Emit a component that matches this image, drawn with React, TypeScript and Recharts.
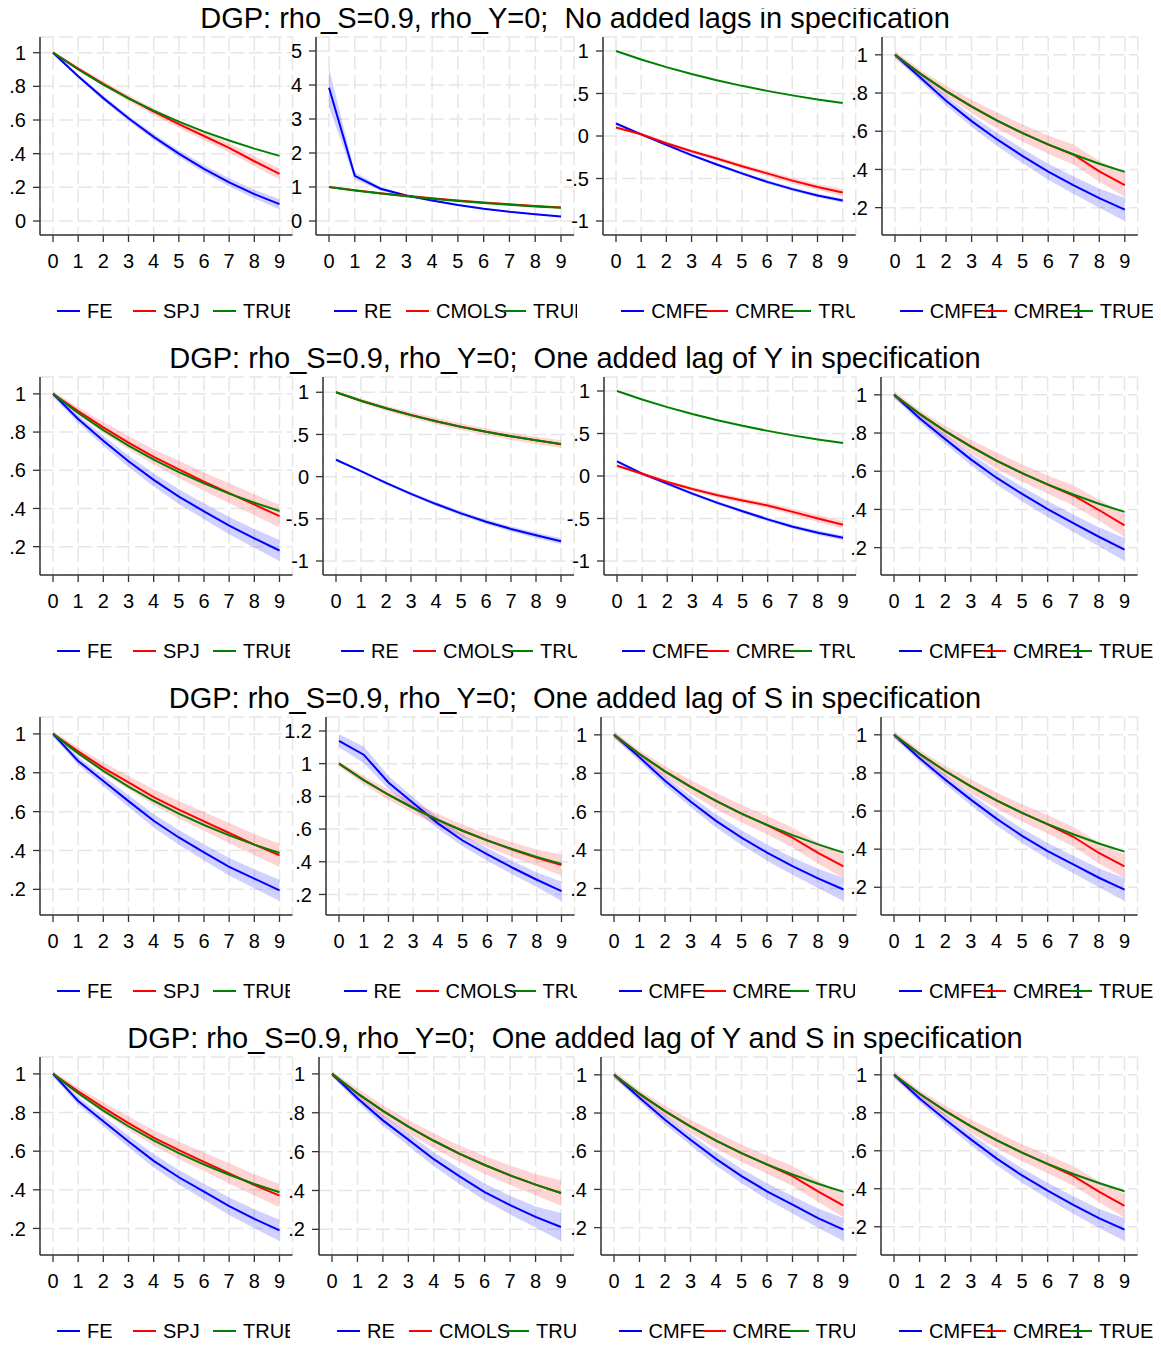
import React from "react"
import { ComposedChart, Line, Area, XAxis, YAxis, CartesianGrid } from "recharts"

// horizons after the shock
const horizons = [0, 1, 2, 3, 4, 5, 6, 7, 8, 9]

// true impulse response (same in every panel)
const trueIrf = [1, 0.9, 0.81, 0.729, 0.656, 0.59, 0.531, 0.478, 0.43, 0.387]

// y tick sets
const ticks0to1 = [0, 0.2, 0.4, 0.6, 0.8, 1]
const ticks0to5 = [0, 1, 2, 3, 4, 5]
const ticksM1to1 = [-1, -0.5, 0, 0.5, 1]
const ticks02to1 = [0.2, 0.4, 0.6, 0.8, 1]
const ticks02to12 = [0.2, 0.4, 0.6, 0.8, 1, 1.2]

// ---- row 1: no added lags ----
const r1FE = [1, 0.86, 0.73, 0.61, 0.5, 0.4, 0.31, 0.23, 0.16, 0.1]
const r1FEBand = [[0.99, 1.01], [0.85, 0.87], [0.716, 0.744], [0.594, 0.626], [0.482, 0.518], [0.38, 0.42], [0.288, 0.332], [0.206, 0.254], [0.134, 0.186], [0.07, 0.13]]
const r1SPJ = [1, 0.905, 0.815, 0.73, 0.65, 0.575, 0.505, 0.435, 0.355, 0.28]
const r1SPJBand = [[0.99, 1.01], [0.894, 0.916], [0.8, 0.83], [0.713, 0.747], [0.63, 0.67], [0.553, 0.597], [0.48, 0.53], [0.408, 0.462], [0.326, 0.384], [0.248, 0.312]]
const r1RE = [3.92, 1.33, 0.95, 0.75, 0.6, 0.47, 0.36, 0.27, 0.2, 0.13]
const r1REBand = [[3.35, 4.5], [1.22, 1.44], [0.9, 1.0], [0.72, 0.78], [0.575, 0.625], [0.45, 0.49], [0.34, 0.38], [0.25, 0.29], [0.18, 0.22], [0.11, 0.15]]
const r1CMOLS = [1, 0.905, 0.818, 0.74, 0.668, 0.603, 0.545, 0.49, 0.442, 0.4]
const r1CMOLSBand = [[0.99, 1.01], [0.895, 0.915], [0.806, 0.83], [0.726, 0.754], [0.652, 0.684], [0.585, 0.621], [0.525, 0.565], [0.468, 0.512], [0.418, 0.466], [0.374, 0.426]]
const r1CMFE = [0.147, 0.02, -0.105, -0.225, -0.335, -0.44, -0.54, -0.625, -0.7, -0.76]
const r1CMFEBand = [[0.132, 0.162], [0.005, 0.035], [-0.121, -0.089], [-0.242, -0.208], [-0.353, -0.317], [-0.459, -0.421], [-0.56, -0.52], [-0.646, -0.604], [-0.722, -0.678], [-0.784, -0.736]]
const r1CMRE = [0.1, 0.02, -0.085, -0.18, -0.265, -0.355, -0.44, -0.525, -0.6, -0.665]
const r1CMREBand = [[0.085, 0.115], [0.004, 0.036], [-0.103, -0.067], [-0.2, -0.16], [-0.289, -0.241], [-0.382, -0.328], [-0.47, -0.41], [-0.558, -0.492], [-0.636, -0.564], [-0.705, -0.625]]
const r1CMFE1 = [1, 0.88, 0.76, 0.653, 0.557, 0.47, 0.388, 0.317, 0.25, 0.19]
const r1CMFE1Band = [[0.985, 1.015], [0.86, 0.9], [0.735, 0.785], [0.624, 0.682], [0.522, 0.592], [0.432, 0.508], [0.346, 0.43], [0.271, 0.363], [0.2, 0.3], [0.13, 0.25]]
const r1CMRE1 = [1, 0.9, 0.81, 0.73, 0.656, 0.59, 0.53, 0.477, 0.39, 0.318]
const r1CMRE1Band = [[0.98, 1.02], [0.88, 0.92], [0.782, 0.838], [0.695, 0.765], [0.613, 0.699], [0.545, 0.635], [0.482, 0.578], [0.425, 0.529], [0.335, 0.445], [0.256, 0.38]]

// ---- row 2: one added lag of Y ----
const r2FE = [1, 0.868, 0.754, 0.647, 0.55, 0.462, 0.385, 0.31, 0.244, 0.18]
const r2FEBand = [[0.985, 1.015], [0.848, 0.888], [0.728, 0.78], [0.617, 0.677], [0.515, 0.585], [0.424, 0.5], [0.343, 0.427], [0.265, 0.355], [0.195, 0.293], [0.125, 0.235]]
const r2SPJ = [1, 0.91, 0.825, 0.745, 0.67, 0.605, 0.54, 0.48, 0.42, 0.36]
const r2SPJBand = [[0.985, 1.015], [0.89, 0.93], [0.797, 0.853], [0.71, 0.78], [0.63, 0.71], [0.56, 0.65], [0.492, 0.588], [0.428, 0.532], [0.365, 0.475], [0.3, 0.42]]
const r2RE = [0.2, 0.065, -0.075, -0.205, -0.325, -0.435, -0.535, -0.62, -0.695, -0.765]
const r2REBand = [[0.19, 0.21], [0.05, 0.08], [-0.092, -0.058], [-0.225, -0.185], [-0.348, -0.302], [-0.46, -0.41], [-0.562, -0.508], [-0.65, -0.59], [-0.728, -0.662], [-0.8, -0.73]]
const r2CMOLS = [1, 0.9, 0.81, 0.73, 0.657, 0.591, 0.532, 0.478, 0.43, 0.385]
const r2CMOLSBand = [[0.985, 1.015], [0.875, 0.925], [0.78, 0.84], [0.695, 0.765], [0.62, 0.694], [0.553, 0.629], [0.492, 0.572], [0.437, 0.519], [0.387, 0.473], [0.34, 0.43]]
const r2CMFE = [0.172, 0.027, -0.09, -0.207, -0.316, -0.414, -0.51, -0.598, -0.668, -0.727]
const r2CMFEBand = [[0.155, 0.189], [0.01, 0.044], [-0.107, -0.073], [-0.225, -0.189], [-0.335, -0.297], [-0.434, -0.394], [-0.532, -0.488], [-0.622, -0.574], [-0.694, -0.642], [-0.755, -0.699]]
const r2CMRE = [0.121, 0.027, -0.07, -0.152, -0.227, -0.289, -0.348, -0.422, -0.5, -0.574]
const r2CMREBand = [[0.105, 0.137], [0.01, 0.044], [-0.09, -0.05], [-0.175, -0.129], [-0.253, -0.201], [-0.318, -0.26], [-0.38, -0.316], [-0.458, -0.386], [-0.54, -0.46], [-0.618, -0.53]]
const r2CMFE1 = [1, 0.877, 0.768, 0.662, 0.566, 0.481, 0.402, 0.328, 0.257, 0.19]
const r2CMFE1Band = [[0.985, 1.015], [0.857, 0.897], [0.743, 0.793], [0.633, 0.691], [0.531, 0.601], [0.443, 0.519], [0.36, 0.444], [0.282, 0.374], [0.207, 0.307], [0.13, 0.25]]
const r2CMRE1 = [1, 0.9, 0.81, 0.73, 0.656, 0.59, 0.53, 0.473, 0.397, 0.316]
const r2CMRE1Band = [[0.98, 1.02], [0.88, 0.92], [0.782, 0.838], [0.695, 0.765], [0.613, 0.699], [0.545, 0.635], [0.482, 0.578], [0.42, 0.526], [0.342, 0.452], [0.255, 0.377]]

// ---- row 3: one added lag of S ----
const r3FE = [1, 0.861, 0.758, 0.654, 0.553, 0.467, 0.39, 0.316, 0.255, 0.195]
const r3FEBand = [[0.985, 1.015], [0.841, 0.881], [0.732, 0.784], [0.624, 0.684], [0.518, 0.588], [0.429, 0.505], [0.348, 0.432], [0.271, 0.361], [0.206, 0.304], [0.14, 0.25]]
const r3SPJ = [1, 0.91, 0.825, 0.75, 0.675, 0.61, 0.55, 0.49, 0.43, 0.375]
const r3SPJBand = [[0.985, 1.015], [0.89, 0.93], [0.797, 0.853], [0.715, 0.785], [0.635, 0.715], [0.565, 0.655], [0.502, 0.598], [0.438, 0.542], [0.375, 0.485], [0.315, 0.435]]
const r3RE = [1.14, 1.055, 0.885, 0.76, 0.635, 0.53, 0.445, 0.365, 0.29, 0.22]
const r3REBand = [[1.1, 1.18], [1.005, 1.105], [0.845, 0.925], [0.725, 0.795], [0.6, 0.67], [0.495, 0.565], [0.407, 0.483], [0.323, 0.407], [0.245, 0.335], [0.16, 0.28]]
const r3CMOLS = [1, 0.9, 0.81, 0.73, 0.656, 0.59, 0.53, 0.475, 0.425, 0.38]
const r3CMOLSBand = [[0.985, 1.015], [0.875, 0.925], [0.78, 0.84], [0.697, 0.763], [0.62, 0.692], [0.552, 0.628], [0.49, 0.57], [0.43, 0.52], [0.375, 0.475], [0.315, 0.445]]
const r3CMFE = [1, 0.883, 0.761, 0.653, 0.552, 0.465, 0.387, 0.317, 0.253, 0.195]
const r3CMFEBand = [[0.985, 1.015], [0.863, 0.903], [0.736, 0.786], [0.624, 0.682], [0.517, 0.587], [0.427, 0.503], [0.345, 0.429], [0.272, 0.362], [0.203, 0.303], [0.135, 0.255]]
const r3CMRE = [1, 0.9, 0.81, 0.73, 0.656, 0.59, 0.53, 0.465, 0.385, 0.315]
const r3CMREBand = [[0.98, 1.02], [0.88, 0.92], [0.782, 0.838], [0.695, 0.765], [0.613, 0.699], [0.545, 0.635], [0.482, 0.578], [0.414, 0.518], [0.33, 0.44], [0.253, 0.377]]
const r3CMFE1 = [1, 0.877, 0.765, 0.66, 0.56, 0.47, 0.39, 0.32, 0.25, 0.188]
const r3CMFE1Band = [[0.985, 1.015], [0.857, 0.897], [0.74, 0.79], [0.631, 0.689], [0.525, 0.595], [0.432, 0.508], [0.348, 0.432], [0.274, 0.366], [0.2, 0.3], [0.128, 0.248]]
const r3CMRE1 = [1, 0.9, 0.81, 0.73, 0.656, 0.59, 0.53, 0.465, 0.38, 0.31]
const r3CMRE1Band = [[0.98, 1.02], [0.88, 0.92], [0.782, 0.838], [0.695, 0.765], [0.613, 0.699], [0.545, 0.635], [0.482, 0.578], [0.414, 0.518], [0.325, 0.435], [0.248, 0.372]]

// ---- row 4: one added lag of Y and S ----
const r4FE = [1, 0.86, 0.755, 0.65, 0.55, 0.465, 0.39, 0.315, 0.25, 0.19]
const r4FEBand = [[0.985, 1.015], [0.84, 0.88], [0.729, 0.781], [0.62, 0.68], [0.515, 0.585], [0.427, 0.503], [0.348, 0.432], [0.27, 0.36], [0.201, 0.299], [0.135, 0.245]]
const r4SPJ = [1, 0.91, 0.825, 0.745, 0.67, 0.605, 0.545, 0.485, 0.425, 0.37]
const r4SPJBand = [[0.985, 1.015], [0.89, 0.93], [0.797, 0.853], [0.71, 0.78], [0.63, 0.71], [0.56, 0.65], [0.497, 0.593], [0.433, 0.537], [0.37, 0.48], [0.31, 0.43]]
const r4RE = [1, 0.875, 0.761, 0.662, 0.561, 0.474, 0.392, 0.325, 0.264, 0.212]
const r4REBand = [[0.985, 1.015], [0.855, 0.895], [0.733, 0.789], [0.63, 0.694], [0.525, 0.597], [0.434, 0.514], [0.348, 0.436], [0.277, 0.373], [0.21, 0.318], [0.14, 0.284]]
const r4CMOLS = [1, 0.9, 0.81, 0.729, 0.656, 0.59, 0.531, 0.478, 0.43, 0.387]
const r4CMOLSBand = [[0.985, 1.015], [0.875, 0.925], [0.78, 0.84], [0.695, 0.763], [0.617, 0.695], [0.548, 0.632], [0.485, 0.577], [0.428, 0.528], [0.375, 0.485], [0.322, 0.452]]
const r4CMFE = [1, 0.88, 0.765, 0.66, 0.56, 0.47, 0.39, 0.32, 0.25, 0.19]
const r4CMFEBand = [[0.985, 1.015], [0.86, 0.9], [0.74, 0.79], [0.631, 0.689], [0.525, 0.595], [0.432, 0.508], [0.348, 0.432], [0.274, 0.366], [0.2, 0.3], [0.13, 0.25]]
const r4CMRE = [1, 0.9, 0.81, 0.73, 0.656, 0.59, 0.53, 0.47, 0.39, 0.315]
const r4CMREBand = [[0.98, 1.02], [0.88, 0.92], [0.782, 0.838], [0.695, 0.765], [0.613, 0.699], [0.545, 0.635], [0.482, 0.578], [0.418, 0.522], [0.335, 0.445], [0.253, 0.377]]
const r4CMFE1 = [1, 0.875, 0.765, 0.66, 0.56, 0.47, 0.39, 0.315, 0.245, 0.185]
const r4CMFE1Band = [[0.985, 1.015], [0.855, 0.895], [0.74, 0.79], [0.631, 0.689], [0.525, 0.595], [0.432, 0.508], [0.348, 0.432], [0.269, 0.361], [0.195, 0.295], [0.125, 0.245]]
const r4CMRE1 = [1, 0.9, 0.81, 0.73, 0.656, 0.59, 0.53, 0.468, 0.385, 0.31]
const r4CMRE1Band = [[0.98, 1.02], [0.88, 0.92], [0.782, 0.838], [0.695, 0.765], [0.613, 0.699], [0.545, 0.635], [0.482, 0.578], [0.416, 0.52], [0.33, 0.44], [0.248, 0.372]]

const legendNames = [
    ["FE", "SPJ", "TRUE"],
    ["RE", "CMOLS", "TRUE"],
    ["CMFE", "CMRE", "TRUE"],
    ["CMFE1", "CMRE1", "TRUE"],
]

const rowTitles = [
    "DGP: rho_S=0.9, rho_Y=0;  No added lags in specification",
    "DGP: rho_S=0.9, rho_Y=0;  One added lag of Y in specification",
    "DGP: rho_S=0.9, rho_Y=0;  One added lag of S in specification",
    "DGP: rho_S=0.9, rho_Y=0;  One added lag of Y and S in specification",
]

const FONT = '"Liberation Sans", Arial, Helvetica, sans-serif'
const BLUE = "#0000ff"
const RED = "#ff0000"
const GREEN = "#008000"
const AXIS = "#333333"

// layout of the 4 columns
const colRight = [292.5, 574, 856, 1137.5]
const legendClip = [290, 577, 855, 1161]
const legendKeys = [[17, 93, 173], [18, 90, 187], [18, 102, 185], [18, 102, 188]]
const ROW_H = 340

type Band = number[][]
type PanelSpec = {
    axisX: number
    yTicks: number[]
    est: [number[], number[]]
    band: [Band, Band]
}

const rows: PanelSpec[][] = [
    [
        { axisX: 40, yTicks: ticks0to1, est: [r1FE, r1SPJ], band: [r1FEBand, r1SPJBand] },
        { axisX: 316, yTicks: ticks0to5, est: [r1RE, r1CMOLS], band: [r1REBand, r1CMOLSBand] },
        { axisX: 603.3, yTicks: ticksM1to1, est: [r1CMFE, r1CMRE], band: [r1CMFEBand, r1CMREBand] },
        { axisX: 881.7, yTicks: ticks02to1, est: [r1CMFE1, r1CMRE1], band: [r1CMFE1Band, r1CMRE1Band] },
    ],
    [
        { axisX: 40, yTicks: ticks02to1, est: [r2FE, r2SPJ], band: [r2FEBand, r2SPJBand] },
        { axisX: 323, yTicks: ticksM1to1, est: [r2RE, r2CMOLS], band: [r2REBand, r2CMOLSBand] },
        { axisX: 604, yTicks: ticksM1to1, est: [r2CMFE, r2CMRE], band: [r2CMFEBand, r2CMREBand] },
        { axisX: 881, yTicks: ticks02to1, est: [r2CMFE1, r2CMRE1], band: [r2CMFE1Band, r2CMRE1Band] },
    ],
    [
        { axisX: 40, yTicks: ticks02to1, est: [r3FE, r3SPJ], band: [r3FEBand, r3SPJBand] },
        { axisX: 325.5, yTicks: ticks02to12, est: [r3RE, r3CMOLS], band: [r3REBand, r3CMOLSBand] },
        { axisX: 600.5, yTicks: ticks02to1, est: [r3CMFE, r3CMRE], band: [r3CMFEBand, r3CMREBand] },
        { axisX: 881, yTicks: ticks02to1, est: [r3CMFE1, r3CMRE1], band: [r3CMFE1Band, r3CMRE1Band] },
    ],
    [
        { axisX: 40, yTicks: ticks02to1, est: [r4FE, r4SPJ], band: [r4FEBand, r4SPJBand] },
        { axisX: 319, yTicks: ticks02to1, est: [r4RE, r4CMOLS], band: [r4REBand, r4CMOLSBand] },
        { axisX: 600.5, yTicks: ticks02to1, est: [r4CMFE, r4CMRE], band: [r4CMFEBand, r4CMREBand] },
        { axisX: 881, yTicks: ticks02to1, est: [r4CMFE1, r4CMRE1], band: [r4CMFE1Band, r4CMRE1Band] },
    ],
]

// Stata style labels: .8 instead of 0.8
const fmt = (v: number) => String(Math.round(v * 100) / 100).replace(/^(-?)0\./, "$1.")

const tickStyle = { fontSize: 20, fill: "#000", fontFamily: FONT }

function Panel({ spec, col, top }: { spec: PanelSpec; col: number; top: number }) {
    const data = horizons.map((h, i) => ({
        h,
        a: spec.est[0][i],
        b: spec.est[1][i],
        t: trueIrf[i],
        aBand: spec.band[0][i],
        bBand: spec.band[1][i],
    }))

    // axis range = data range joined with the tick range
    const all = [
        ...spec.est[0], ...spec.est[1], ...trueIrf,
        ...spec.band[0].flat(), ...spec.band[1].flat(), ...spec.yTicks,
    ]
    const lo = Math.min(...all)
    const hi = Math.max(...all)

    const width = colRight[col] - spec.axisX + 52

    return (
        <div style={{ position: "absolute", left: spec.axisX - 50, top }}>
            <ComposedChart width={width} height={280} data={data} margin={{ top: 37, right: 2, bottom: 0, left: 0 }}>
                <CartesianGrid stroke="#e6e6e6" strokeWidth={1.5} strokeDasharray="14 5" />
                <XAxis
                    type="number"
                    dataKey="h"
                    domain={[0, 9]}
                    ticks={horizons}
                    interval={0}
                    padding={{ left: 13, right: 13 }}
                    height={45}
                    tick={tickStyle}
                    tickSize={7}
                    tickMargin={12}
                    axisLine={{ stroke: AXIS, strokeWidth: 1.5 }}
                    tickLine={{ stroke: AXIS, strokeWidth: 1.3 }}
                />
                <YAxis
                    type="number"
                    domain={[lo, hi]}
                    ticks={spec.yTicks}
                    interval={0}
                    padding={{ top: 14, bottom: 14 }}
                    width={50}
                    tickFormatter={fmt}
                    tick={tickStyle}
                    tickSize={7}
                    tickMargin={7}
                    axisLine={{ stroke: AXIS, strokeWidth: 1.5 }}
                    tickLine={{ stroke: AXIS, strokeWidth: 1.3 }}
                />
                <Area dataKey="aBand" type="linear" stroke="none" fill={BLUE} fillOpacity={0.18} isAnimationActive={false} activeDot={false} />
                <Area dataKey="bBand" type="linear" stroke="none" fill={RED} fillOpacity={0.17} isAnimationActive={false} activeDot={false} />
                <Line dataKey="a" type="linear" stroke={BLUE} strokeWidth={2} dot={false} isAnimationActive={false} />
                <Line dataKey="b" type="linear" stroke={RED} strokeWidth={2} dot={false} isAnimationActive={false} />
                <Line dataKey="t" type="linear" stroke={GREEN} strokeWidth={2} dot={false} isAnimationActive={false} />
            </ComposedChart>
        </div>
    )
}

function PanelLegend({ axisX, col, top }: { axisX: number; col: number; top: number }) {
    const colors = [BLUE, RED, GREEN]
    return (
        <div
            style={{
                position: "absolute",
                left: axisX,
                top: top + 299,
                width: legendClip[col] - axisX,
                height: 24,
                overflow: "hidden",
                fontSize: 20,
                lineHeight: "24px",
                whiteSpace: "nowrap",
            }}
        >
            {legendNames[col].map((name, i) => (
                <React.Fragment key={name + i}>
                    <span style={{ position: "absolute", left: legendKeys[col][i] + 30, top: 0 }}>{name}</span>
                    <div
                        style={{
                            position: "absolute",
                            left: legendKeys[col][i],
                            top: 11,
                            width: 23,
                            height: 2,
                            background: colors[i],
                        }}
                    />
                </React.Fragment>
            ))}
        </div>
    )
}

export default function App() {
    return (
        <div
            style={{
                position: "relative",
                width: 1161,
                height: 1346,
                margin: -8,
                background: "#fff",
                fontFamily: FONT,
                color: "#000",
                overflow: "hidden",
            }}
        >
            {rows.map((panels, r) => (
                <React.Fragment key={r}>
                    <div
                        style={{
                            position: "absolute",
                            left: 0,
                            top: r * ROW_H,
                            width: 1150,
                            height: 36,
                            lineHeight: "36px",
                            textAlign: "center",
                            fontSize: 29,
                            whiteSpace: "pre",
                        }}
                    >
                        {rowTitles[r]}
                    </div>
                    {panels.map((spec, c) => (
                        <React.Fragment key={c}>
                            <Panel spec={spec} col={c} top={r * ROW_H} />
                            <PanelLegend axisX={spec.axisX} col={c} top={r * ROW_H} />
                        </React.Fragment>
                    ))}
                </React.Fragment>
            ))}
        </div>
    )
}
